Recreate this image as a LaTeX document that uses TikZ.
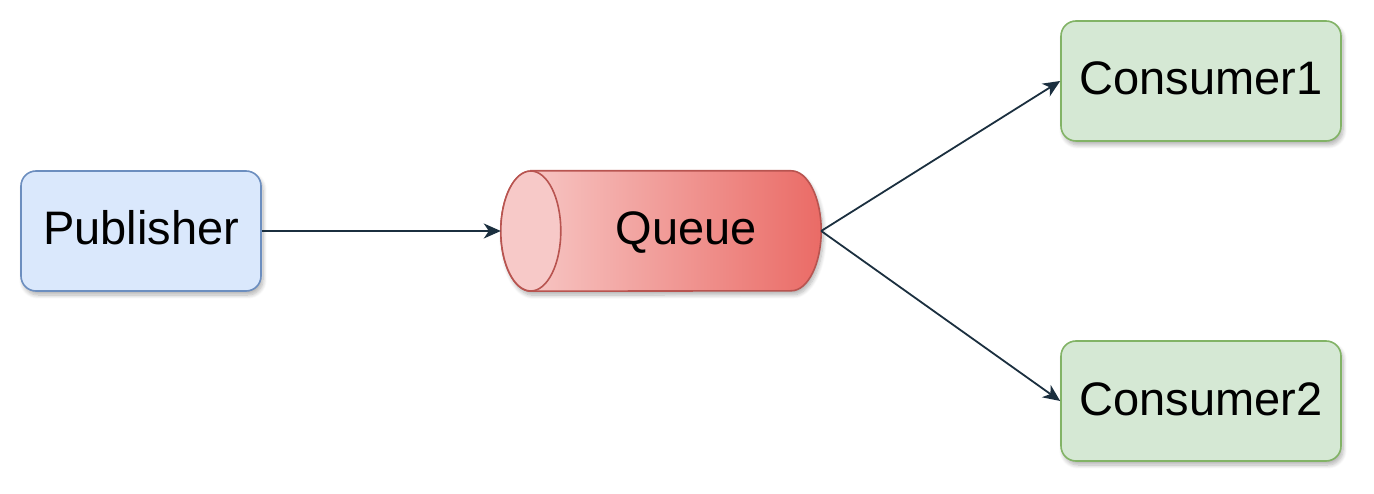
\documentclass[tikz,border=0pt]{standalone}
\usepackage{fontspec}
\setmainfont{Liberation Sans}
\usetikzlibrary{shadows,shadows.blur,arrows.meta}
\definecolor{pubfill}{HTML}{DAE8FC}
\definecolor{pubdraw}{HTML}{6C8EBF}
\definecolor{confill}{HTML}{D5E8D4}
\definecolor{condraw}{HTML}{82B366}
\definecolor{qleft}{HTML}{F8CECC}
\definecolor{qright}{HTML}{EA6B66}
\definecolor{qdraw}{HTML}{B85450}
\definecolor{qfront}{HTML}{F7C9C8}
\definecolor{arrowc}{HTML}{1B2F3F}
\tikzset{
  myshadow/.style={blur shadow={shadow xshift=2pt,shadow yshift=-4pt,shadow blur radius=4pt,shadow blur steps=8,shadow opacity=30}},
  boxbase/.style={rounded corners=15pt,line width=1.6pt,minimum height=120pt,
    font=\fontsize{47}{56}\selectfont,inner sep=0pt,text height=28pt,text depth=0pt,myshadow},
  pubbox/.style={boxbase,draw=pubdraw,fill=pubfill,minimum width=240pt},
  conbox/.style={boxbase,draw=condraw,fill=confill,minimum width=280pt},
  flow/.style={draw=arrowc,line width=1.8pt,-{Stealth[length=17pt,width=15pt,inset=5pt]}},
  qtext/.style={font=\fontsize{47}{56}\selectfont,inner sep=0pt,text height=28pt,text depth=0pt}
}
\begin{document}
\begin{tikzpicture}[x=1pt,y=-1pt]
\useasboundingbox (0,0) rectangle (1374,494);
\node[pubbox] (pub) at (141,231) {Publisher};
\node[conbox] (c1) at (1201,81) {Consumer1};
\node[conbox] (c2) at (1201,401) {Consumer2};
\node[minimum width=320pt,minimum height=120pt,inner sep=0pt] (q) at (661,231) {};
\path[draw=qdraw,line width=1.6pt,left color=qleft,right color=qright,myshadow]
  ([xshift=30pt]q.north west) -- ([xshift=-30pt]q.north east)
  arc[start angle=90,end angle=-90,x radius=30pt,y radius=60pt]
  -- ([xshift=30pt]q.south west)
  arc[start angle=270,end angle=90,x radius=30pt,y radius=60pt] -- cycle;
\draw[draw=qdraw,line width=1.6pt,fill=qfront] ([xshift=30pt]q.west) ellipse[x radius=30pt,y radius=60pt];
\node[qtext] (ql) at (686,231) {Queue};
\draw[flow] (pub.east) -- (q.west);
\draw[flow] (q.east) -- (c1.west);
\draw[flow] (q.east) -- (c2.west);
\end{tikzpicture}
\end{document}
